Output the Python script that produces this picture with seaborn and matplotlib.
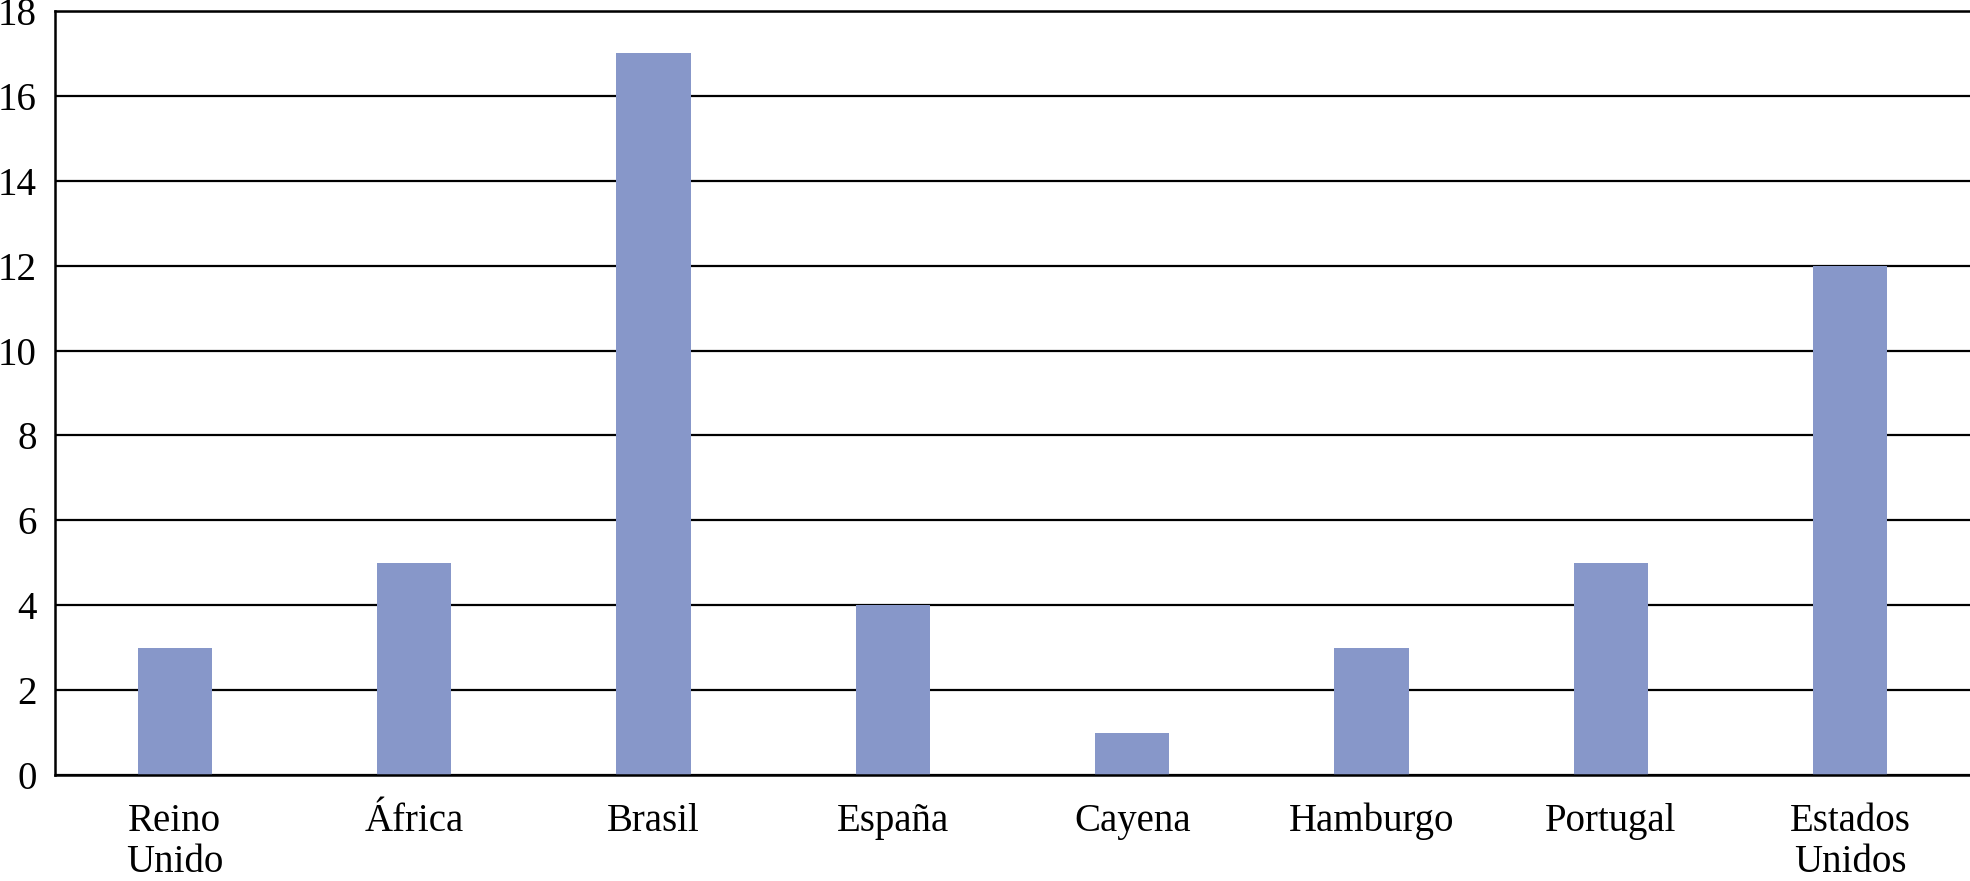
import pandas as pd
import matplotlib
matplotlib.use("Agg")
import matplotlib.pyplot as plt
import seaborn as sns

# Data
destinos = ["Reino\nUnido", "África", "Brasil", "España", "Cayena",
            "Hamburgo", "Portugal", "Estados\nUnidos"]
valores = [3, 5, 17, 4, 1, 3, 5, 12]
y_ticks = [0, 2, 4, 6, 8, 10, 12, 14, 16, 18]

df = pd.DataFrame({"Destino": destinos, "Valor": valores})

sns.set_style("white")
plt.rcParams["font.family"] = ["Liberation Serif", "DejaVu Serif"]

fig = plt.figure(figsize=(19.7, 8.81), dpi=100)
ax = fig.add_axes([55 / 1970, 1 - 775 / 881, 1 - 55 / 1970, (775 - 11) / 881])

ax.set_axisbelow(True)
ax.yaxis.grid(True, color="black", linewidth=1.6)
sns.barplot(data=df, x="Destino", y="Valor", color="#8797c9", saturation=1,
            width=0.31, linewidth=0, ax=ax)

ax.set_ylim(0, 18)
ax.set_xlim(-0.5, len(destinos) - 0.5)
ax.set_yticks(y_ticks)
ax.set_xlabel("")
ax.set_ylabel("")
ax.tick_params(axis="both", length=0, labelsize=28, colors="black")
ax.tick_params(axis="y", pad=13)
ax.tick_params(axis="x", pad=20)
for lab in ax.get_xticklabels():
    lab.set_linespacing(1.15)

ax.spines["right"].set_visible(False)
for side in ["left", "bottom", "top"]:
    ax.spines[side].set_color("black")
    ax.spines[side].set_linewidth(1.8)

fig.savefig("out.png", dpi=100, facecolor="white")
